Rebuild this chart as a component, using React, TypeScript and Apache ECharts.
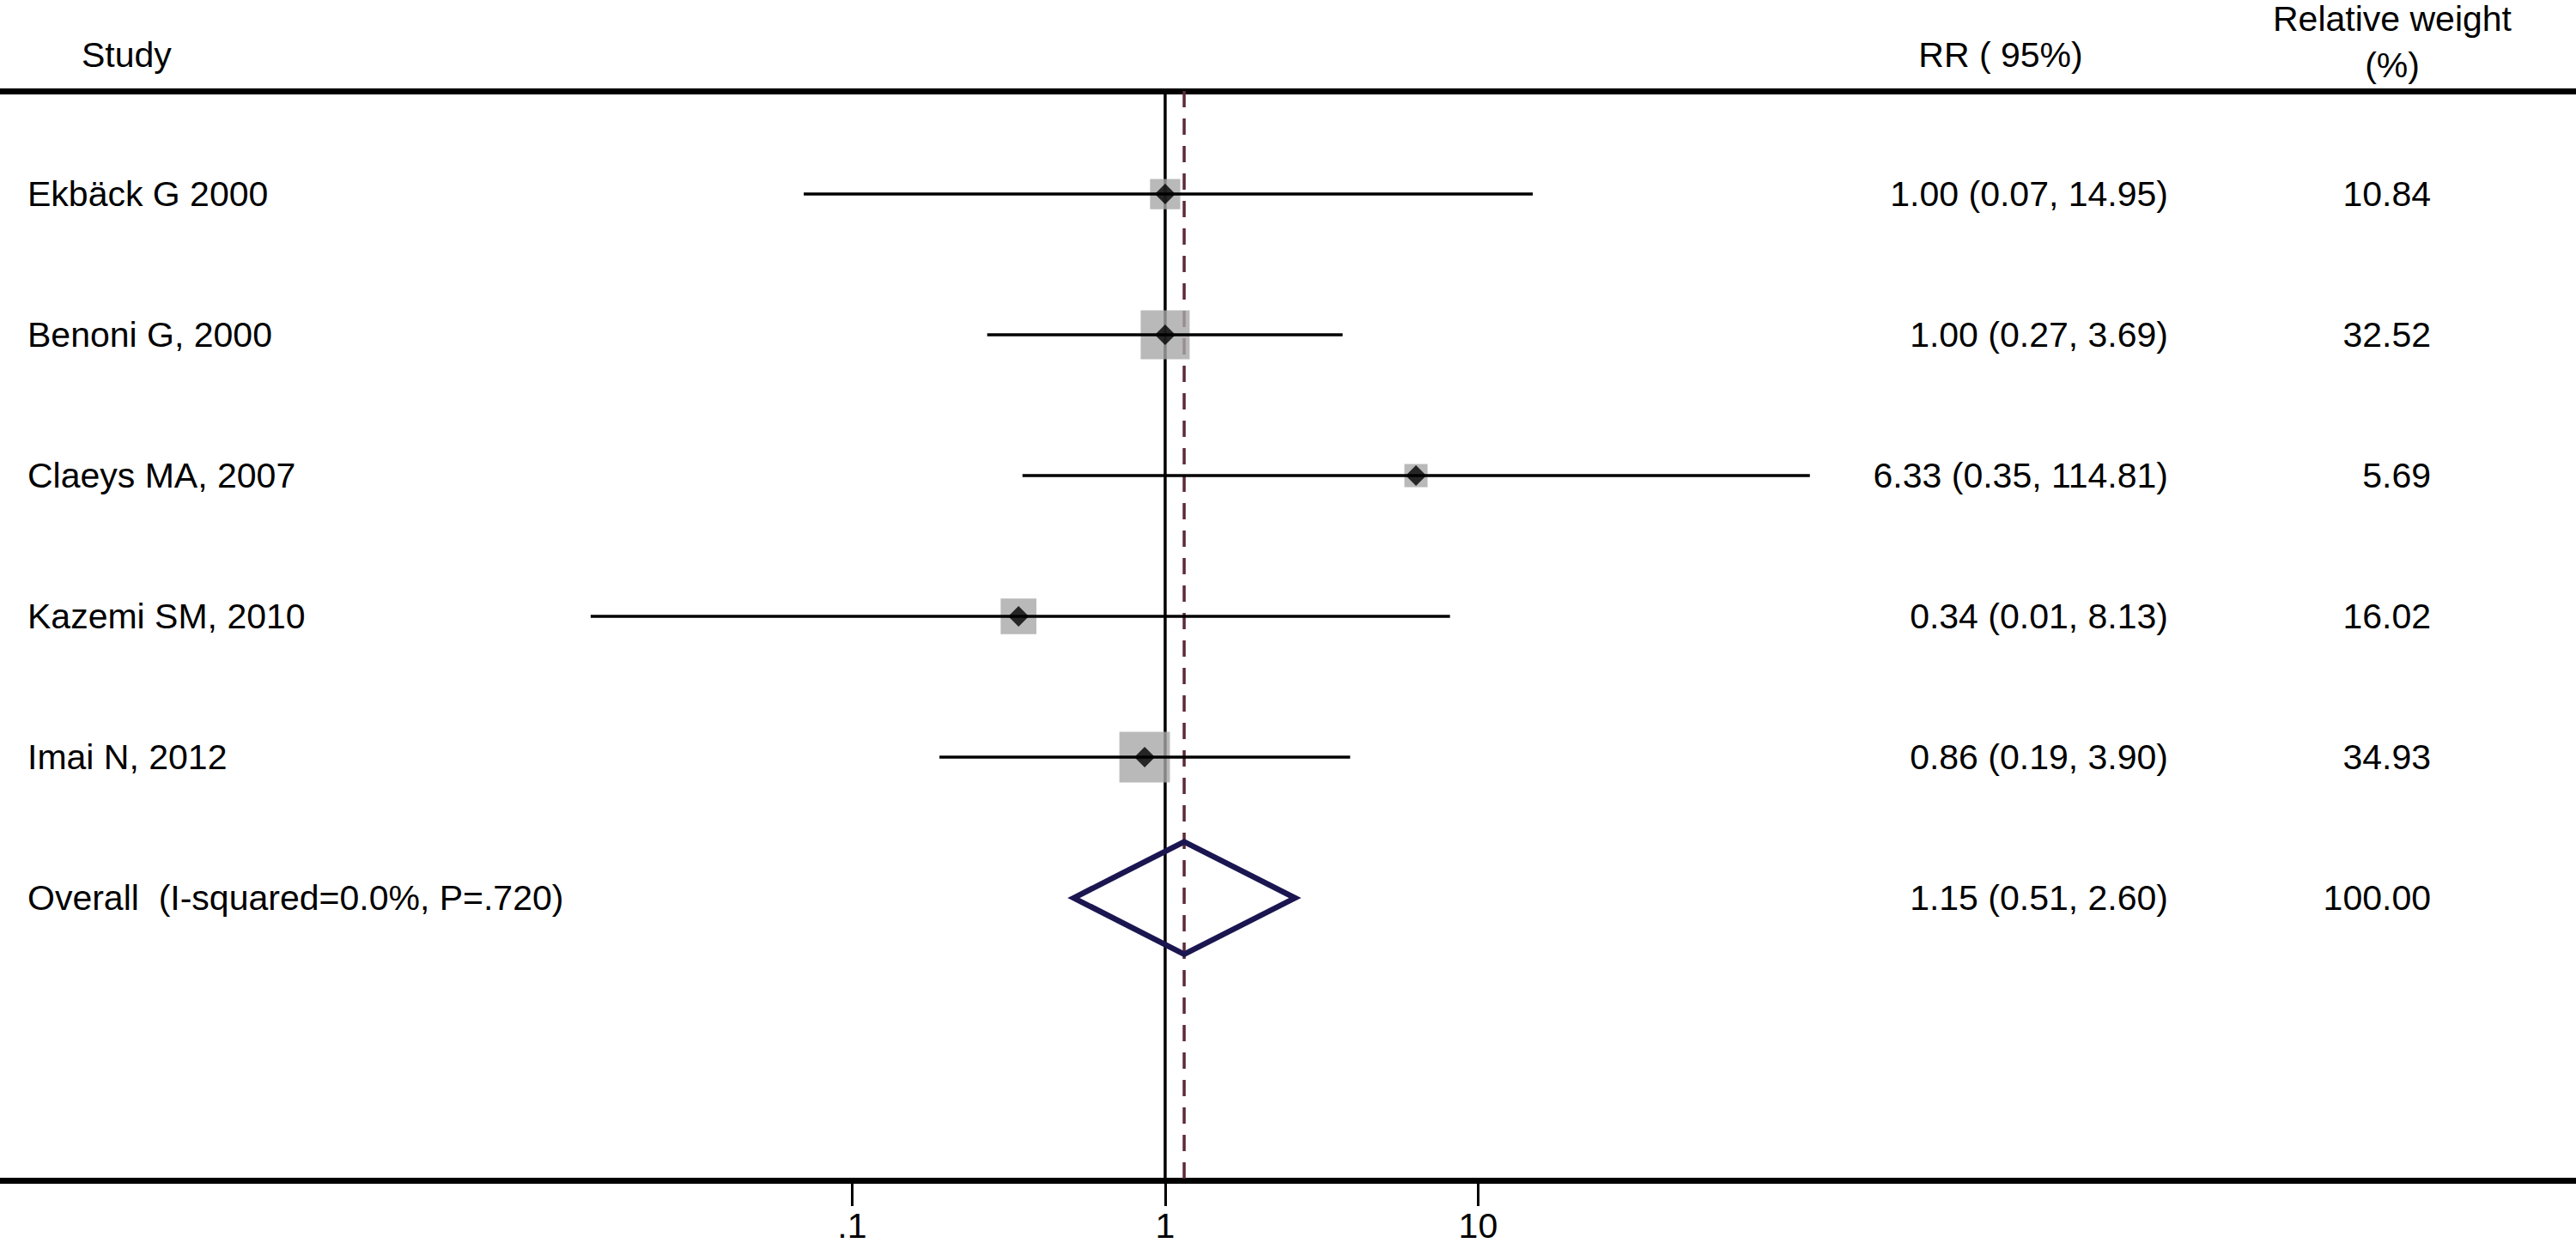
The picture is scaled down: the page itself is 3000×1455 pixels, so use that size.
import React, { useEffect, useRef } from "react";
import * as echarts from "echarts";

// ---------- data ----------
const studies = ["Ekbäck G 2000", "Benoni G, 2000", "Claeys MA, 2007", "Kazemi SM, 2010", "Imai N, 2012"];
const rr = [1.0, 1.0, 6.33, 0.34, 0.86];
const ciLow = [0.07, 0.27, 0.35, 0.0146, 0.19];
const ciHigh = [14.95, 3.69, 114.81, 8.13, 3.9];
const weights = [10.84, 32.52, 5.69, 16.02, 34.93];
const rrLabels = ["1.00 (0.07, 14.95)", "1.00 (0.27, 3.69)", "6.33 (0.35, 114.81)", "0.34 (0.01, 8.13)", "0.86 (0.19, 3.90)"];
const weightLabels = ["10.84", "32.52", "5.69", "16.02", "34.93"];

const overallLabel = "Overall  (I-squared=0.0%, P=.720)";
const overallRR = [1.15];
const overallLow = [0.51];
const overallHigh = [2.6];
const overallRRLabel = "1.15 (0.51, 2.60)";
const overallWeightLabel = "100.00";

const refLines = [1, 1.15];
const xTicks = [0.1, 1, 10];
const xTickLabels = [".1", "1", "10"];

const headerStudy = "Study";
const headerRR = "RR ( 95%)";
const headerWeight1 = "Relative weight";
const headerWeight2 = "(%)";

// ---------- layout constants ----------
const W = 3000;
const H = 1455;
const FONT = "'Liberation Sans', Arial, Helvetica, sans-serif";
const FS = 41;
const X_MIN = Math.pow(10, -3.723);
const X_MAX = Math.pow(10, 4.508);
const Y_MIN = -0.732;
const Y_MAX = 7.006;

export default function App() {
  const ref = useRef<HTMLDivElement>(null);

  useEffect(() => {
    if (!ref.current) return;
    const chart = echarts.init(ref.current, undefined, { renderer: "svg" });

    const rows = studies.map((s, i) => ({
      study: s,
      rrText: rrLabels[i],
      wText: weightLabels[i],
      idx: i,
    }));
    const overallIdx = studies.length;
    const allText = [
      ...rows,
      { study: overallLabel, rrText: overallRRLabel, wText: overallWeightLabel, idx: overallIdx },
    ];

    const option: any = {
      animation: false,
      backgroundColor: "#ffffff",
      grid: { left: 0, right: 0, top: 106, bottom: H - 1375, containLabel: false },
      xAxis: [
        {
          type: "log",
          logBase: 10,
          min: X_MIN,
          max: X_MAX,
          position: "bottom",
          axisLine: { show: true, onZero: false, lineStyle: { color: "#000", width: 7 } },
          axisTick: {
            show: true,
            customValues: xTicks,
            length: 30,
            inside: false,
            lineStyle: { color: "#000", width: 3 },
          },
          axisLabel: {
            show: true,
            customValues: xTicks,
            margin: 32,
            color: "#000",
            fontSize: FS,
            fontFamily: FONT,
            formatter: (v: number) => {
              const k = xTicks.findIndex((t) => Math.abs(Math.log10(t) - Math.log10(v)) < 1e-6);
              return k >= 0 ? xTickLabels[k] : "";
            },
          },
          splitLine: { show: false },
          minorTick: { show: false },
        },
        {
          type: "log",
          logBase: 10,
          min: X_MIN,
          max: X_MAX,
          position: "top",
          axisLine: { show: true, onZero: false, lineStyle: { color: "#000", width: 7 } },
          axisTick: { show: false },
          axisLabel: { show: false },
          splitLine: { show: false },
        },
      ],
      yAxis: {
        type: "value",
        min: Y_MIN,
        max: Y_MAX,
        inverse: true,
        show: false,
        splitLine: { show: false },
      },
      graphic: [
        {
          type: "text",
          x: 95,
          y: 64,
          style: { text: headerStudy, fill: "#000", fontSize: FS, fontFamily: FONT, align: "left", verticalAlign: "middle" },
        },
        {
          type: "text",
          x: 2330,
          y: 64,
          style: { text: headerRR, fill: "#000", fontSize: FS, fontFamily: FONT, align: "center", verticalAlign: "middle" },
        },
        {
          type: "text",
          x: 2786,
          y: 22,
          style: { text: headerWeight1, fill: "#000", fontSize: FS, fontFamily: FONT, align: "center", verticalAlign: "middle" },
        },
        {
          type: "text",
          x: 2786,
          y: 76,
          style: { text: headerWeight2, fill: "#000", fontSize: FS, fontFamily: FONT, align: "center", verticalAlign: "middle" },
        },
      ],
      series: [
        // reference vertical lines (null at 1, overall estimate dashed)
        {
          type: "custom",
          name: "refLines",
          z: 1,
          silent: true,
          data: refLines.map((v, i) => [v, i]),
          encode: { x: 0 },
          renderItem: (params: any, api: any) => {
            const v = api.value(0);
            const x = api.coord([v, 0])[0];
            const cs = params.coordSys;
            const dashed = params.dataIndex === 1;
            return {
              type: "line",
              shape: { x1: x, y1: cs.y, x2: x, y2: cs.y + cs.height },
              style: dashed
                ? { stroke: "#5e2a37", lineWidth: 3.5, lineDash: [19, 13] }
                : { stroke: "#000", lineWidth: 3.5 },
            };
          },
        },
        // weight squares
        {
          type: "scatter",
          name: "weights",
          z: 2,
          silent: true,
          symbol: "rect",
          symbolSize: (val: number[]) => Math.sqrt(val[2]) * 9.05 + 5.4,
          itemStyle: { color: "#a7a7a7" },
          data: rr.map((v, i) => [v, i, weights[i]]),
        },
        // confidence intervals
        {
          type: "custom",
          name: "ci",
          z: 3,
          silent: true,
          data: rr.map((_, i) => [ciLow[i], ciHigh[i], i]),
          encode: { x: [0, 1], y: 2 },
          renderItem: (params: any, api: any) => {
            const p1 = api.coord([api.value(0), api.value(2)]);
            const p2 = api.coord([api.value(1), api.value(2)]);
            return {
              type: "line",
              shape: { x1: p1[0], y1: p1[1], x2: p2[0], y2: p2[1] },
              style: { stroke: "#000", lineWidth: 3.5 },
            };
          },
        },
        // point estimates
        {
          type: "scatter",
          name: "rr",
          z: 4,
          silent: true,
          symbol: "diamond",
          symbolSize: 24,
          itemStyle: { color: "#000" },
          data: rr.map((v, i) => [v, i]),
        },
        // overall diamond
        {
          type: "custom",
          name: "overall",
          z: 4,
          silent: true,
          data: overallRR.map((v, i) => [overallLow[i], v, overallHigh[i], overallIdx]),
          encode: { x: [0, 1, 2], y: 3 },
          renderItem: (params: any, api: any) => {
            const row = api.value(3);
            const l = api.coord([api.value(0), row]);
            const c = api.coord([api.value(1), row]);
            const r = api.coord([api.value(2), row]);
            const hh = 65.5;
            return {
              type: "polygon",
              shape: {
                points: [
                  [l[0], l[1]],
                  [c[0], c[1] - hh],
                  [r[0], r[1]],
                  [c[0], c[1] + hh],
                ],
              },
              style: { fill: "none", stroke: "#1b1650", lineWidth: 6.5, lineJoin: "miter" },
            };
          },
        },
        // text columns
        {
          type: "custom",
          name: "labels",
          z: 5,
          silent: true,
          data: allText.map((t) => [1, t.idx]),
          encode: { x: 0, y: 1 },
          renderItem: (params: any, api: any) => {
            const t = allText[params.dataIndex];
            const y = api.coord([1, api.value(1)])[1];
            const base = { fill: "#000", fontSize: FS, fontFamily: FONT, verticalAlign: "middle" };
            return {
              type: "group",
              children: [
                { type: "text", x: 32, y, style: { ...base, text: t.study, align: "left" } },
                { type: "text", x: 2525, y, style: { ...base, text: t.rrText, align: "right" } },
                { type: "text", x: 2831, y, style: { ...base, text: t.wText, align: "right" } },
              ],
            };
          },
        },
      ],
    };

    chart.setOption(option);
    return () => {
      chart.dispose();
    };
  }, []);

  return (
    <div
      ref={ref}
      style={{ position: "absolute", left: 0, top: 0, width: W, height: H, background: "#fff" }}
    />
  );
}
